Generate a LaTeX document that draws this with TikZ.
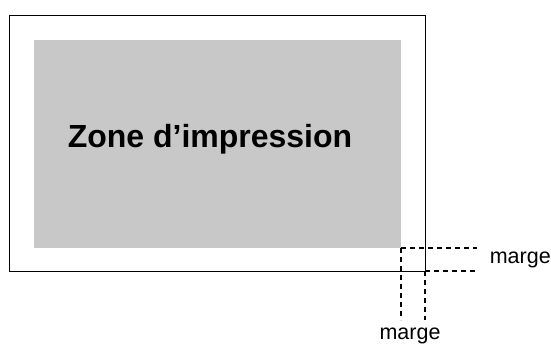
\documentclass[tikz,border=0pt]{standalone}
\usepackage{fontspec}
\setmainfont{Liberation Sans}
\definecolor{zonegray}{RGB}{200,200,200}
\begin{document}
\begin{tikzpicture}[x=1pt, y=-1pt, line width=1pt]
\useasboundingbox (0,0) rectangle (551,343);
\draw (9.5,15) rectangle (425,271);
\fill[zonegray] (34,40) rectangle (401,248);
\node[anchor=base, font=\bfseries\fontsize{32}{32}\selectfont] (zone) at (210,147) {Zone d’impression};
\coordinate (zc) at (401,248);
\coordinate (pc) at (425,271);
\coordinate (h1) at (477,248);
\coordinate (h2) at (477,271);
\coordinate (v1) at (401,320);
\coordinate (v2) at (425,320);
\draw[dash pattern=on 5pt off 4pt, line width=1.1pt] (zc)--(h1) (pc)--(h2) (zc)--(v1) (pc)--(v2);
\node[anchor=base west, font=\fontsize{21.5}{21.5}\selectfont] (mright) at (486,263) {marge};
\node[anchor=base, font=\fontsize{21.5}{21.5}\selectfont] (mbottom) at (410,339.5) {marge};

\end{tikzpicture}
\end{document}
